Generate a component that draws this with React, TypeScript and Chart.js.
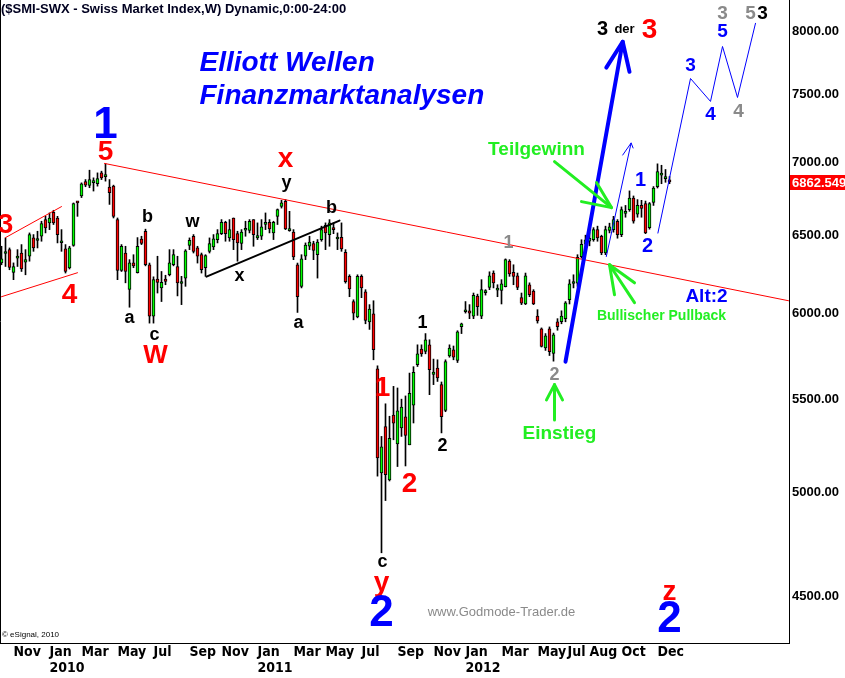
import React, { useEffect, useRef } from "react";
import { Chart, registerables } from "chart.js";
Chart.register(...registerables);

// ---- weekly candles (week index 0 = week of 2 Nov 2009) ----
const FIRST_WEEK = -3;
const opens = [
  6319, 6380, 6405, 6258, 6350, 6383, 6323, 6362, 6482, 6465,
  6493, 6604, 6582, 6653, 6615, 6450, 6410, 6286, 6432, 6728,
  6765, 6865, 6838, 6858, 6850, 6926, 6900, 6826, 6833, 6604,
  6270, 6383, 6150, 6320, 6256, 6475, 6526, 6307, 5985, 6216,
  6160, 6216, 6243, 6307, 6296, 6188, 6222, 6432, 6493, 6416,
  6372, 6288, 6394, 6422, 6471, 6510, 6586, 6482, 6615, 6510,
  6445, 6533, 6532, 6604, 6482, 6493, 6572, 6586, 6515, 6626,
  6694, 6728, 6530, 6520, 6307, 6170, 6362, 6427, 6444, 6372,
  6471, 6565, 6504, 6548, 6475, 6486, 6388, 6233, 6075, 5981,
  6233, 6135, 5950, 6000, 5672, 5102, 5348, 5066, 5412, 5255,
  5341, 5402, 5250, 5467, 5696, 5788, 5774, 5813, 5640, 5677,
  5582, 5437, 5748, 5784, 5721, 5921, 6012, 6018, 5985, 6109,
  5985, 6130, 6163, 6254, 6146, 6145, 6168, 6330, 6258, 6237,
  6099, 6060, 6180, 6140, 5985, 5908, 5794, 5908, 5762, 5951,
  5951, 5970, 6086, 6188, 6190, 6360, 6440, 6460, 6471, 6537,
  6493, 6383, 6532, 6537, 6593, 6504, 6645, 6671, 6751, 6640,
  6700, 6712, 6550, 6720, 6830, 6910, 6886, 6866,
];
const highs = [
  6427, 6482, 6416, 6319, 6405, 6438, 6405, 6515, 6504, 6526,
  6593, 6626, 6649, 6667, 6626, 6537, 6438, 6427, 6717, 6728,
  6856, 6879, 6945, 6891, 6926, 6938, 6991, 6879, 6840, 6615,
  6438, 6427, 6340, 6372, 6484, 6493, 6540, 6318, 6230, 6362,
  6264, 6240, 6405, 6405, 6362, 6233, 6405, 6482, 6504, 6427,
  6383, 6372, 6482, 6504, 6537, 6604, 6593, 6604, 6615, 6526,
  6537, 6593, 6604, 6604, 6582, 6604, 6649, 6604, 6593, 6676,
  6735, 6740, 6660, 6537, 6318, 6372, 6449, 6493, 6460, 6471,
  6560, 6582, 6604, 6582, 6515, 6582, 6405, 6243, 6086, 6243,
  6243, 6149, 6056, 6080, 5690, 5295, 5474, 5405, 5572, 5563,
  5500, 5518, 5648, 5685, 5813, 5813, 5880, 5843, 5729, 5725,
  5597, 5725, 5813, 5806, 5897, 5943, 6075, 6056, 6128, 6121,
  6212, 6149, 6262, 6268, 6180, 6212, 6345, 6340, 6307, 6254,
  6128, 6254, 6192, 6149, 6025, 5914, 5880, 5920, 5883, 5970,
  6018, 6075, 6212, 6243, 6372, 6470, 6500, 6520, 6550, 6560,
  6500, 6560, 6580, 6626, 6604, 6690, 6700, 6800, 6765, 6740,
  6735, 6730, 6720, 6830, 6990, 6980, 6950, 6900,
];
const lows = [
  6307, 6296, 6275, 6212, 6296, 6264, 6243, 6330, 6394, 6416,
  6460, 6515, 6537, 6571, 6449, 6394, 6254, 6280, 6427, 6626,
  6754, 6829, 6822, 6799, 6833, 6879, 6868, 6707, 6615, 6212,
  6264, 6192, 6040, 6288, 6254, 6438, 6300, 5943, 5943, 6128,
  6075, 6180, 6236, 6300, 6110, 6056, 6170, 6405, 6383, 6318,
  6254, 6233, 6383, 6405, 6449, 6504, 6460, 6460, 6405, 6330,
  6405, 6493, 6515, 6427, 6471, 6471, 6537, 6515, 6471, 6571,
  6682, 6537, 6526, 6340, 6008, 6160, 6340, 6405, 6340, 6222,
  6460, 6405, 6427, 6510, 6405, 6394, 6190, 6105, 5963, 5975,
  6099, 5939, 5905, 5725, 5085, 4703, 4960, 5060, 5277, 5135,
  5295, 5138, 5250, 5368, 5686, 5745, 5760, 5525, 5582, 5600,
  5314, 5430, 5740, 5725, 5709, 5880, 6004, 5970, 5970, 5990,
  5970, 6115, 6149, 6160, 6105, 6060, 6166, 6233, 6180, 6149,
  6056, 6056, 6105, 6056, 5943, 5800, 5780, 5750, 5717, 5900,
  5939, 5951, 6060, 6160, 6170, 6350, 6400, 6430, 6460, 6460,
  6372, 6372, 6515, 6520, 6480, 6490, 6620, 6660, 6580, 6620,
  6620, 6510, 6540, 6700, 6820, 6850, 6860, 6850,
];
const closes = [
  6345, 6386, 6290, 6296, 6360, 6280, 6340, 6504, 6416, 6476,
  6577, 6548, 6615, 6582, 6504, 6457, 6264, 6416, 6712, 6717,
  6850, 6840, 6879, 6862, 6886, 6891, 6906, 6787, 6626, 6270,
  6427, 6264, 6320, 6300, 6427, 6445, 6307, 5985, 6212, 6195,
  6195, 6201, 6320, 6372, 6192, 6195, 6398, 6466, 6394, 6362,
  6275, 6366, 6445, 6476, 6510, 6586, 6510, 6537, 6471, 6449,
  6520, 6540, 6593, 6504, 6498, 6555, 6578, 6542, 6586, 6671,
  6717, 6542, 6537, 6357, 6105, 6345, 6434, 6455, 6400, 6455,
  6537, 6515, 6582, 6537, 6488, 6410, 6200, 6153, 6004, 6233,
  6160, 5959, 6029, 5784, 5180, 5239, 5093, 5285, 5367, 5435,
  5456, 5300, 5533, 5653, 5760, 5760, 5843, 5667, 5654, 5620,
  5402, 5715, 5794, 5740, 5890, 5939, 6020, 6004, 6114, 6044,
  6149, 6140, 6237, 6192, 6152, 6185, 6340, 6249, 6233, 6163,
  6065, 6237, 6117, 6060, 5956, 5803, 5867, 5772, 5873, 5921,
  5985, 6067, 6185, 6196, 6355, 6440, 6470, 6480, 6537, 6482,
  6383, 6537, 6555, 6604, 6504, 6671, 6660, 6751, 6593, 6700,
  6680, 6515, 6712, 6820, 6935, 6918, 6894, 6862.55,
];
const LAST_PRICE_LABEL = "6862.5498";

// ---- axes ----
const yTickValues = [4500, 5000, 5500, 6000, 6500, 7000, 7500, 8000];
const monthTickWeeks = [0, 9, 17, 26, 35, 44, 52, 61, 70, 78, 87, 96, 105, 113, 122, 131, 138.5, 144, 152, 161];
const monthTickLabels = [
  ["Nov"], ["Jan", "2010"], ["Mar"], ["May"], ["Jul"], ["Sep"], ["Nov"],
  ["Jan", "2011"], ["Mar"], ["May"], ["Jul"], ["Sep"], ["Nov"],
  ["Jan", "2012"], ["Mar"], ["May"], ["Jul"], ["Aug"], ["Oct"], ["Dec"],
];

// ---- annotations (week index, price) ----
const BLUE = "#0000ff";
const RED = "#ff0000";
const BLACK = "#000000";
const GREY = "#8a8a8a";
const GREEN = "#22ee22";

const waveLabels = [
  { t: "1", w: 23, p: 7268, c: BLUE, s: 44 },
  { t: "5", w: 23, p: 7071, c: RED, s: 28 },
  { t: "3", w: -2, p: 6564, c: RED, s: 28 },
  { t: "4", w: 14, p: 6117, c: RED, s: 28 },
  { t: "a", w: 29, p: 5975, c: BLACK, s: 18 },
  { t: "b", w: 33.5, p: 6624, c: BLACK, s: 18 },
  { t: "c", w: 35.25, p: 5872, c: BLACK, s: 18 },
  { t: "W", w: 35.5, p: 5748, c: RED, s: 26 },
  { t: "w", w: 44.75, p: 6591, c: BLACK, s: 18 },
  { t: "x", w: 56.5, p: 6237, c: BLACK, s: 18 },
  { t: "x", w: 68, p: 7021, c: RED, s: 28 },
  { t: "y", w: 68.25, p: 6858, c: BLACK, s: 18 },
  { t: "b", w: 79.5, p: 6685, c: BLACK, s: 18 },
  { t: "a", w: 71.25, p: 5945, c: BLACK, s: 18 },
  { t: "1", w: 92.25, p: 5563, c: RED, s: 28 },
  { t: "c", w: 92.25, p: 4658, c: BLACK, s: 18 },
  { t: "y", w: 92, p: 4560, c: RED, s: 28 },
  { t: "2", w: 92, p: 4418, c: BLUE, s: 44 },
  { t: "2", w: 99, p: 5045, c: RED, s: 28 },
  { t: "1", w: 102.25, p: 5945, c: BLACK, s: 18 },
  { t: "2", w: 107.25, p: 5244, c: BLACK, s: 18 },
  { t: "1", w: 123.75, p: 6445, c: GREY, s: 18 },
  { t: "2", w: 135.25, p: 5638, c: GREY, s: 18 },
  { t: "1", w: 156.75, p: 6872, c: BLUE, s: 20 },
  { t: "2", w: 158.5, p: 6427, c: BLUE, s: 20 },
  { t: "3", w: 147.25, p: 8016, c: BLACK, s: 20 },
  { t: "der", w: 152.75, p: 8016, c: BLACK, s: 13 },
  { t: "3", w: 159, p: 8008, c: RED, s: 28 },
  { t: "3", w: 169.25, p: 7727, c: BLUE, s: 19 },
  { t: "4", w: 174.25, p: 7350, c: BLUE, s: 19 },
  { t: "5", w: 177.25, p: 8000, c: BLUE, s: 19 },
  { t: "3", w: 177.25, p: 8148, c: GREY, s: 19 },
  { t: "4", w: 181.25, p: 7373, c: GREY, s: 19 },
  { t: "5", w: 184.25, p: 8148, c: GREY, s: 19 },
  { t: "3", w: 187.25, p: 8148, c: BLACK, s: 19 },
  { t: "z", w: 164, p: 4518, c: RED, s: 28 },
  { t: "2", w: 164, p: 4391, c: BLUE, s: 44 },
  { t: "Teilgewinn", w: 130.75, p: 7093, c: GREEN, s: 19 },
  { t: "Einstieg", w: 136.5, p: 5309, c: GREEN, s: 19 },
  { t: "Bullischer Pullback", w: 162, p: 5987, c: GREEN, s: 14 },
  { t: "Alt:2", w: 173.25, p: 6105, c: BLUE, s: 19 },
];

const titleLines = [
  { t: "Elliott Wellen", w: 46.5, p: 7743 },
  { t: "Finanzmarktanalysen", w: 46.5, p: 7487 },
];

type Pt = [number, number];
const overlayLines: { pts: Pt[]; c: string; lw: number }[] = [
  { pts: [[22.75, 6993], [193.75, 6080]], c: RED, lw: 1 },
  { pts: [[-2, 6484], [12, 6692]], c: RED, lw: 1 },
  { pts: [[-3, 6105], [16, 6256]], c: RED, lw: 1 },
  { pts: [[48.25, 6231], [81.5, 6597]], c: BLACK, lw: 2 },
  { pts: [[138, 5714], [152.3, 7916]], c: BLUE, lw: 4 },
  { pts: [[148.2, 7710], [152.3, 7916], [154, 7677]], c: BLUE, lw: 4 },
  { pts: [[148.2, 6360], [154.4, 7140]], c: BLUE, lw: 1 },
  { pts: [[152.3, 7053], [154.4, 7140], [154.9, 7104]], c: BLUE, lw: 1 },
  { pts: [[161.1, 6514], [169.25, 7625], [174.25, 7449], [177.25, 7878], [181, 7479], [185.5, 8066]], c: BLUE, lw: 1 },
  { pts: [[135.25, 7006], [149.5, 6685]], c: GREEN, lw: 3 },
  { pts: [[145.75, 6858], [149.5, 6685], [142, 6726]], c: GREEN, lw: 3 },
  { pts: [[149, 6307], [150.25, 6117]], c: GREEN, lw: 3 },
  { pts: [[149, 6307], [155.25, 6192]], c: GREEN, lw: 3 },
  { pts: [[149, 6307], [155.25, 6068]], c: GREEN, lw: 3 },
  { pts: [[135.25, 5385], [135.25, 5582]], c: GREEN, lw: 3 },
  { pts: [[133.25, 5496], [135.25, 5582], [137.25, 5496]], c: GREEN, lw: 3 },
];

const watermark = { t: "www.Godmode-Trader.de", w: 122, p: 4427 };

const SANS = '"Liberation Sans", Arial, Helvetica, sans-serif';
const NARROW = '"Liberation Sans Narrow", "Arial Narrow", "DejaVu Sans Condensed", sans-serif';

const overlayPlugin = {
  id: "overlay",
  afterDatasetsDraw(chart: any) {
    const { ctx, chartArea, scales } = chart;
    const xs = scales.x;
    const ys = scales.y;
    const X = (w: number) => xs.getPixelForValue(w);
    const Y = (p: number) => ys.getPixelForValue(p);
    ctx.save();

    // left border
    ctx.strokeStyle = "#000";
    ctx.lineWidth = 1;
    ctx.beginPath();
    ctx.moveTo(chartArea.left + 0.5, chartArea.top);
    ctx.lineTo(chartArea.left + 0.5, chartArea.bottom);
    ctx.stroke();

    // lines
    ctx.lineJoin = "round";
    ctx.lineCap = "round";
    for (const l of overlayLines) {
      ctx.strokeStyle = l.c;
      ctx.lineWidth = l.lw;
      ctx.beginPath();
      l.pts.forEach(([w, p], i) => {
        if (i === 0) ctx.moveTo(X(w), Y(p));
        else ctx.lineTo(X(w), Y(p));
      });
      ctx.stroke();
    }

    // header
    ctx.fillStyle = "#000020";
    ctx.font = `bold 13px ${SANS}`;
    ctx.textAlign = "left";
    ctx.textBaseline = "alphabetic";
    ctx.fillText("($SMI-SWX - Swiss Market Index,W) Dynamic,0:00-24:00", chartArea.left + 1, chartArea.top + 13);

    // title
    ctx.fillStyle = BLUE;
    ctx.font = `italic bold 28px ${SANS}`;
    ctx.textBaseline = "middle";
    for (const tl of titleLines) ctx.fillText(tl.t, X(tl.w), Y(tl.p));

    // wave labels
    ctx.textAlign = "center";
    for (const lb of waveLabels) {
      ctx.fillStyle = lb.c;
      ctx.font = `bold ${lb.s}px ${SANS}`;
      ctx.fillText(lb.t, X(lb.w), Y(lb.p));
    }

    // watermark
    ctx.fillStyle = GREY;
    ctx.font = `13px ${SANS}`;
    ctx.fillText(watermark.t, X(watermark.w), Y(watermark.p));

    // copyright
    ctx.fillStyle = "#000";
    ctx.font = `8px ${SANS}`;
    ctx.textAlign = "left";
    ctx.fillText("© eSignal, 2010", chartArea.left + 2, chartArea.bottom - 8);

    // last price box
    const lastY = Y(closes[closes.length - 1]);
    ctx.fillStyle = RED;
    ctx.fillRect(chartArea.right + 1, Math.round(lastY) - 7, chart.width - chartArea.right, 15);
    ctx.fillStyle = "#ffffff";
    ctx.font = `bold 13px ${SANS}`;
    ctx.textAlign = "left";
    ctx.textBaseline = "middle";
    ctx.fillText(LAST_PRICE_LABEL, chartArea.right + 3, Math.round(lastY) + 1);

    ctx.restore();
  },
};

export default function App() {
  const ref = useRef<HTMLCanvasElement>(null);
  useEffect(() => {
    const weeks = opens.map((_, i) => FIRST_WEEK + i);
    const bodies = opens.map((o, i) => ({ x: weeks[i], y: [Math.min(o, closes[i]), Math.max(o, closes[i])] }));
    const bodyColors = opens.map((o, i) => (closes[i] >= o ? "#00ff00" : "#ff0000"));
    const wicks = lows.map((l, i) => ({ x: weeks[i], y: [l, highs[i]] }));

    const chart = new Chart(ref.current as HTMLCanvasElement, {
      type: "bar",
      data: {
        datasets: [
          {
            data: bodies as any,
            backgroundColor: bodyColors,
            borderColor: "#000",
            borderWidth: 1,
            borderSkipped: false,
            barThickness: 3,
            minBarLength: 2,
            grouped: false,
            order: 0,
          } as any,
          {
            data: wicks as any,
            backgroundColor: "#000",
            borderWidth: 0,
            barThickness: 1,
            grouped: false,
            order: 1,
          } as any,
        ],
      },
      options: {
        animation: false,
        responsive: false,
        maintainAspectRatio: false,
        layout: { padding: 0 },
        plugins: { legend: { display: false }, tooltip: { enabled: false } },
        scales: {
          x: {
            type: "linear",
            min: -3.375,
            max: 193.875,
            offset: false,
            grid: { display: false, drawTicks: false },
            border: { display: true, color: "#000" },
            ticks: {
              autoSkip: false,
              maxRotation: 0,
              minRotation: 0,
              align: "start",
              padding: 2,
              color: "#000",
              font: { family: NARROW, size: 14, weight: "bold", lineHeight: 1.1 },
              callback: (v: any) => {
                const k = monthTickWeeks.indexOf(Number(v));
                return k >= 0 ? monthTickLabels[k] : "";
              },
            },
            afterBuildTicks: (s: any) => {
              s.ticks = monthTickWeeks.map((v) => ({ value: v }));
            },
            afterFit: (s: any) => {
              s.height = 35;
              s.paddingLeft = 0;
              s.paddingRight = 0;
            },
          } as any,
          y: {
            type: "logarithmic",
            position: "right",
            min: 4290,
            max: 8260,
            grid: { display: false, drawTicks: false },
            border: { display: true, color: "#000" },
            ticks: {
              padding: 3,
              color: "#000",
              font: { family: SANS, size: 13, weight: "bold" },
              callback: (v: any) => Number(v).toFixed(2),
            },
            afterBuildTicks: (s: any) => {
              s.ticks = yTickValues.map((v) => ({ value: v }));
            },
            afterFit: (s: any) => {
              s.width = 56;
              s.paddingTop = 0;
              s.paddingBottom = 0;
            },
          } as any,
        },
      },
      plugins: [overlayPlugin],
    });
    return () => chart.destroy();
  }, []);

  return (
    <div style={{ position: "fixed", left: 0, top: 0, width: 845, height: 678, background: "#fff" }}>
      <canvas ref={ref} width={845} height={678} style={{ display: "block", width: 845, height: 678 }} />
    </div>
  );
}
